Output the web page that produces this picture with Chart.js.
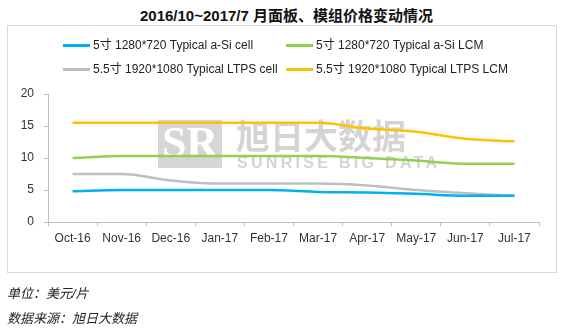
<!DOCTYPE html>
<html>
<head>
<meta charset="utf-8">
<script src="https://cdn.jsdelivr.net/npm/chart.js@4"></script>
<style>
  body { margin: 0; width: 573px; height: 335px; background: #fff; position: relative; overflow: hidden;
         font-family: "Liberation Sans", "Noto Sans CJK SC", sans-serif; }
  #title { position: absolute; left: 0; top: 4px; width: 573px; text-align: center;
           font-size: 15px; font-weight: bold; color: #111; }
  #frame { position: absolute; left: 7px; top: 25px; width: 548px; height: 246px; border: 1px solid #d9d9d9; }
  #chart { position: absolute; left: 0; top: 0; }
  .leg { position: absolute; font-size: 12px; color: #222; white-space: nowrap; height: 14px; line-height: 14px; }
  .leg span.ln { position: absolute; left: 0; top: 6px; width: 27px; height: 3px; }
  .leg span.tx { position: absolute; left: 30px; top: 0; }
  .note { position: absolute; left: 7px; font-size: 13px; font-style: italic; color: #222; }
</style>
</head>
<body>
<div id="title">2016/10~2017/7 月面板、模组价格变动情况</div>
<div id="frame"></div>
<canvas id="chart" width="573" height="335"></canvas>
<div id="legend"></div>
<div class="note" style="top:283px">单位：美元/片</div>
<div class="note" style="top:308px">数据来源：旭日大数据</div>
<script>
// months on the x axis
let months = ["Oct-16", "Nov-16", "Dec-16", "Jan-17", "Feb-17", "Mar-17", "Apr-17", "May-17", "Jun-17", "Jul-17"];

// price per panel (USD)
let siCell  = [4.8, 5.0, 5.0, 5.0, 5.0, 4.7, 4.6, 4.4, 4.1, 4.1];
let siLcm   = [10.0, 10.3, 10.3, 10.3, 10.3, 10.3, 10.0, 9.6, 9.1, 9.1];
let ltpsCell = [7.5, 7.5, 6.5, 6.0, 6.0, 6.0, 5.7, 5.0, 4.5, 4.1];
let ltpsLcm  = [15.5, 15.5, 15.5, 15.5, 15.5, 15.5, 14.6, 14.1, 13.0, 12.6];

let yTicks = [0, 5, 10, 15, 20];

let series = [
    { label: "5寸 1280*720 Typical a-Si cell", data: siCell, color: "#00B0F0" },
    { label: "5寸 1280*720 Typical a-Si LCM", data: siLcm, color: "#92D050" },
    { label: "5.5寸  1920*1080 Typical LTPS cell", data: ltpsCell, color: "#BFBFBF" },
    { label: "5.5寸 1920*1080 Typical LTPS LCM", data: ltpsLcm, color: "#FFC000" }
];

// legend in two columns, two rows
let legendPos = [[63, 38], [286, 38], [63, 62], [286, 62]];
let legend = document.getElementById("legend");
series.forEach(function (s, i) {
    let item = document.createElement("div");
    item.className = "leg";
    item.style.left = legendPos[i][0] + "px";
    item.style.top = legendPos[i][1] + "px";
    item.innerHTML = '<span class="ln" style="background:' + s.color + '"></span><span class="tx">' + s.label + '</span>';
    legend.appendChild(item);
});

// faint company mark behind the lines
let watermark = {
    id: "watermark",
    beforeDatasetsDraw: function (chart) {
        let ctx = chart.ctx;
        ctx.save();
        ctx.fillStyle = "#d6d6d6";
        ctx.fillRect(158, 120, 64, 48);
        ctx.fillStyle = "#ffffff";
        ctx.font = "bold 44px 'Liberation Serif'";
        ctx.textBaseline = "middle";
        ctx.textAlign = "center";
        ctx.fillText("SR", 190, 146);
        ctx.fillStyle = "#d4d4d4";
        ctx.textAlign = "left";
        ctx.font = "bold 34px 'Noto Sans CJK SC'";
        ctx.fillText("旭日大数据", 236, 136);
        ctx.font = "bold 16px 'Liberation Sans'";
        ctx.letterSpacing = "3.3px";
        ctx.fillText("SUNRISE BIG DATA", 237, 164);
        ctx.restore();
    }
};

let data = {
    labels: months,
    datasets: series.map(function (s) {
        return {
            label: s.label,
            data: s.data,
            borderColor: s.color,
            backgroundColor: s.color,
            borderWidth: 2.5,
            pointRadius: 0,
            cubicInterpolationMode: "monotone",
            fill: false
        };
    })
};

let config = {
    type: "line",
    data: data,
    options: {
        responsive: false,
        animation: false,
        layout: { padding: { left: 18, top: 94, right: 34, bottom: 83 } },
        plugins: { legend: { display: false }, tooltip: { enabled: false } },
        scales: {
            x: {
                offset: true,
                afterFit: function (scale) { scale.height = 30; },
                grid: { offset: true, drawOnChartArea: false, color: "#bfbfbf", tickLength: 4 },
                border: { color: "#bfbfbf" },
                ticks: { color: "#333", font: { size: 12, family: "Liberation Sans" }, padding: 5, maxRotation: 0, autoSkip: false }
            },
            y: {
                min: 0,
                max: 20,
                afterFit: function (scale) { scale.width = 30; },
                afterBuildTicks: function (scale) { scale.ticks = yTicks.map(function (v) { return { value: v }; }); },
                grid: { drawOnChartArea: false, color: "#bfbfbf", tickLength: 4 },
                border: { color: "#bfbfbf" },
                ticks: { color: "#333", font: { size: 12, family: "Liberation Sans" }, padding: 10 }
            }
        }
    },
    plugins: [watermark]
};

let lineChart = new Chart(document.getElementById("chart"), config);
</script>
</body>
</html>
